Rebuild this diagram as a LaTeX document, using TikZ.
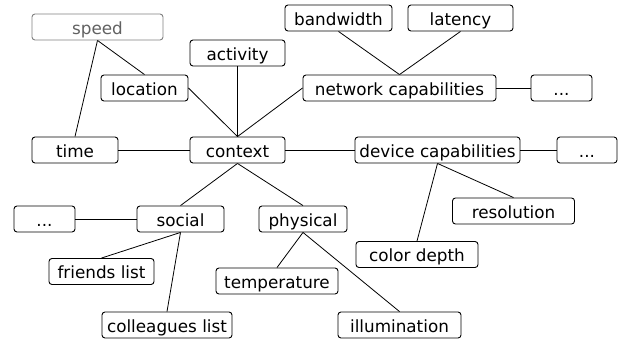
\documentclass[tikz,border=0pt]{standalone}
\usepackage{fontspec}
\setmainfont{DejaVu Sans}
\begin{document}
\begin{tikzpicture}[x=1pt,y=-1pt,
  box/.style={draw=black,line width=0.9pt,rounded corners=3pt,minimum height=26pt,inner sep=0pt,
    text height=15pt,text depth=1pt,font=\fontsize{16.8}{19}\selectfont,text=black},
  graybox/.style={box,draw=black!50,text=black!62},
  link/.style={line width=0.8pt}]
\useasboundingbox (0,0) rectangle (621,340);
\node[graybox,minimum width=131pt] (speed) at (97.5,27) {speed};
\node[box,minimum width=95pt] (activity) at (237.5,53) {activity};
\node[box,minimum width=107pt] (bandwidth) at (338.5,18) {bandwidth};
\node[box,minimum width=105pt] (latency) at (460.5,18) {latency};
\node[box,minimum width=87pt] (location) at (144.5,88) {location};
\node[box,minimum width=193pt] (network) at (399.5,88) {network capabilities};
\node[box,minimum width=61pt] (netmore) at (561.5,88) {...};
\node[box,minimum width=86pt] (time) at (75,150) {time};
\node[box,minimum width=95pt] (context) at (237.5,150) {context};
\node[box,minimum width=165pt] (device) at (437.5,150) {device capabilities};
\node[box,minimum width=60pt] (devmore) at (587,150) {...};
\node[box,minimum width=61pt] (socmore) at (44.5,219) {...};
\node[box,minimum width=87pt] (social) at (180.5,219) {social};
\node[box,minimum width=88pt] (physical) at (303,219) {physical};
\node[box,minimum width=122pt] (resolution) at (513.5,211) {resolution};
\node[box,minimum width=122pt] (colordepth) at (417,254.5) {color depth};
\node[box,minimum width=105pt] (friends) at (101.5,271.5) {friends list};
\node[box,minimum width=122pt] (temperature) at (277,281) {temperature};
\node[box,minimum width=130pt] (colleagues) at (167,325) {colleagues list};
\node[box,minimum width=123pt] (illumination) at (399.5,325) {illumination};

\draw[link] (speed.south) -- (location.north);
\draw[link] (speed.south) -- (time.north);
\draw[link] (location.east) -- (context.north);
\draw[link] (activity.south) -- (context.north);
\draw[link] (network.west) -- (context.north);
\draw[link] (bandwidth.south) -- (network.north);
\draw[link] (latency.south) -- (network.north);
\draw[link] (network.east) -- (netmore.west);
\draw[link] (time.east) -- (context.west);
\draw[link] (context.east) -- (device.west);
\draw[link] (device.east) -- (devmore.west);
\draw[link] (context.south) -- (social.north);
\draw[link] (context.south) -- (physical.north);
\draw[link] (socmore.east) -- (social.west);
\draw[link] (social.south) -- (friends.north);
\draw[link] (social.south) -- (colleagues.north);
\draw[link] (physical.south) -- (temperature.north);
\draw[link] (physical.south) -- (illumination.north);
\draw[link] (device.south) -- (resolution.north);
\draw[link] (device.south) -- (colordepth.north);
\end{tikzpicture}
\end{document}
